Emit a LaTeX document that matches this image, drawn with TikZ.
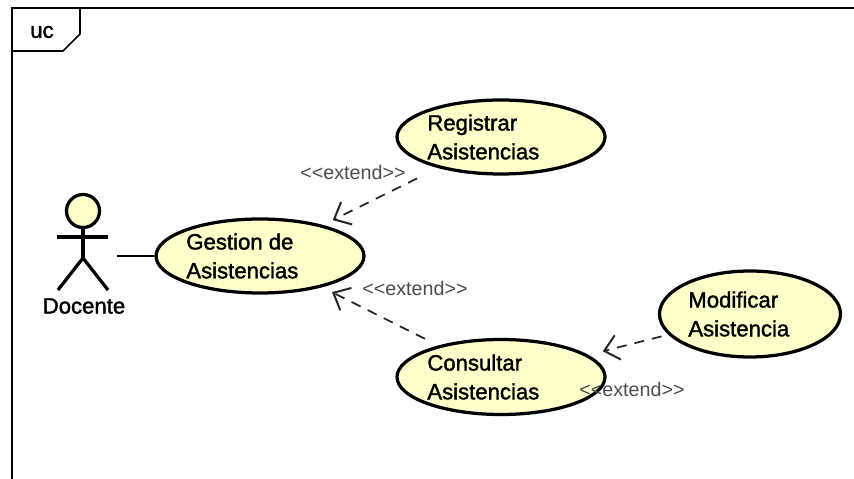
\documentclass[tikz,border=0pt]{standalone}
\usepackage{fontspec}
\usepackage{tikz}
\usetikzlibrary{arrows.meta,shapes.geometric}
\newfontfamily\umlfont[FakeBold=1.6]{Liberation Sans}
\newfontfamily\stereofont{Liberation Sans}
\definecolor{casefill}{HTML}{FFFFCC}
\tikzset{
	usecase/.style={draw=black, fill=casefill, ellipse, line width=0.065cm, inner sep=0},
	casetext/.style={anchor=west, align=left, inner sep=0, font=\fontsize{12.6}{16.4}\selectfont\umlfont},
	stereotype/.style={inner sep=0, text=black!70, font=\fontsize{11.2}{13}\selectfont\stereofont},
	extendline/.style={line width=0.035cm, dash pattern=on 0.2cm off 0.16cm, draw=black!85, -{Straight Barb[length=0.28cm,width=0.5cm,line width=0.04cm]}},
	actorline/.style={line width=0.065cm}
}

\begin{document}
\begin{tikzpicture}
				\useasboundingbox (0,0) rectangle (17.08,9.58);
				
				\draw[line width=0.035cm] (0.24,0) -- (0.24,9.42) -- (17.08,9.42);
				\draw[line width=0.035cm] (0.24,8.56) -- (1.26,8.56) -- (1.6,8.9) -- (1.6,9.42);
				\node[casetext, anchor=center] (frametag) at (0.84,8.94) {uc};
				
				\node[usecase, minimum width=4.16cm, minimum height=1.48cm] (gestion) at (5.2,4.46) {};
				\node[usecase, minimum width=4.16cm, minimum height=1.48cm] (registrar) at (10.02,6.84) {};
				\node[usecase, minimum width=4.16cm, minimum height=1.5cm] (consultar) at (10.02,2.04) {};
				\node[usecase, minimum width=3.62cm, minimum height=1.72cm] (modificar) at (15.0,3.3) {};
				
				\node[casetext] (gestiontext) at (3.72,4.46) {Gestion de\\Asistencias};
				\node[casetext] (registrartext) at (8.54,6.84) {Registrar\\Asistencias};
				\node[casetext] (consultartext) at (8.54,2.04) {Consultar\\Asistencias};
				\node[casetext] (modificartext) at (13.76,3.3) {Modificar\\Asistencia};
				
				\node[draw=black, fill=casefill, circle, actorline, inner sep=0, minimum size=0.66cm] (actorhead) at (1.66,5.36) {};
				\coordinate (actorhip) at (1.66,4.42);
				\draw[actorline] (actorhead) -- (actorhip);
				\draw[actorline] (1.14,4.84) -- (2.16,4.84);
				\draw[actorline] (1.16,3.78) -- (actorhip) -- (2.16,3.78);
				\node[casetext, anchor=center] (docente) at (1.68,3.46) {Docente};
				
				\coordinate (actorhand) at (2.34,4.46);
				\draw[line width=0.035cm] (actorhand) -- (gestion.west);
				
				\draw[extendline, shorten <=0.47cm, shorten >=0.22cm] (registrar) -- (gestion);
				\draw[extendline, shorten <=0.3cm, shorten >=0.22cm] (consultar) -- (gestion);
				\draw[extendline, shorten <=0.14cm, shorten >=0.3cm] (modificar) -- (consultar);
				
				\node[stereotype] (extendone) at (7.06,6.13) {<{}<extend>{}>};
				\node[stereotype] (extendtwo) at (8.3,3.81) {<{}<extend>{}>};
				\node[stereotype] (extendthree) at (12.64,1.79) {<{}<extend>{}>};
			\end{tikzpicture}
\end{document}
